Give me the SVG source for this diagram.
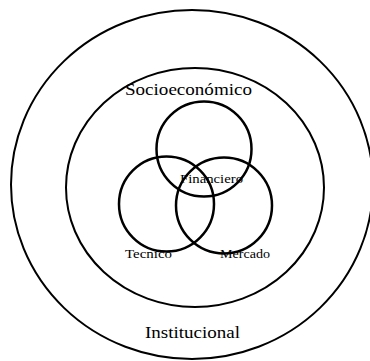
<svg xmlns="http://www.w3.org/2000/svg" width="370" height="361" viewBox="0 0 370 361">
<style>
.ring{fill:none;stroke:#000;stroke-width:2}
.c{fill:none;stroke:#000;stroke-width:2.5}
.t{font-family:"Liberation Serif","Times New Roman",serif;fill:#000}
</style>
<rect width="370" height="361" fill="#fff"/>
<g id="institucional">
<ellipse class="ring" cx="192" cy="184.5" rx="181" ry="174.5"/>
<text class="t" x="145" y="338" font-size="17" textLength="95" lengthAdjust="spacingAndGlyphs">Institucional</text>
</g>
<g id="socioeconomico">
<ellipse class="ring" cx="195" cy="187.5" rx="129" ry="119.5"/>
<text class="t" x="125" y="95" font-size="17" textLength="127" lengthAdjust="spacingAndGlyphs">Socioeconómico</text>
</g>
<g id="financiero">
<circle class="c" cx="204" cy="149" r="47.5"/>
</g>
<g id="tecnico">
<circle class="c" cx="166.5" cy="204" r="47.5"/>
<text class="t" x="125" y="258" font-size="12" textLength="47" lengthAdjust="spacingAndGlyphs">Tecnico</text>
</g>
<g id="mercado">
<circle class="c" cx="224" cy="205.5" r="48"/>
<text class="t" x="220" y="258" font-size="12" textLength="50" lengthAdjust="spacingAndGlyphs">Mercado</text>
</g>
<g id="financiero-label">
<text class="t" x="180" y="183" font-size="13" textLength="63" lengthAdjust="spacingAndGlyphs">Financiero</text>
</g>
<g id="connectors"/>
</svg>
